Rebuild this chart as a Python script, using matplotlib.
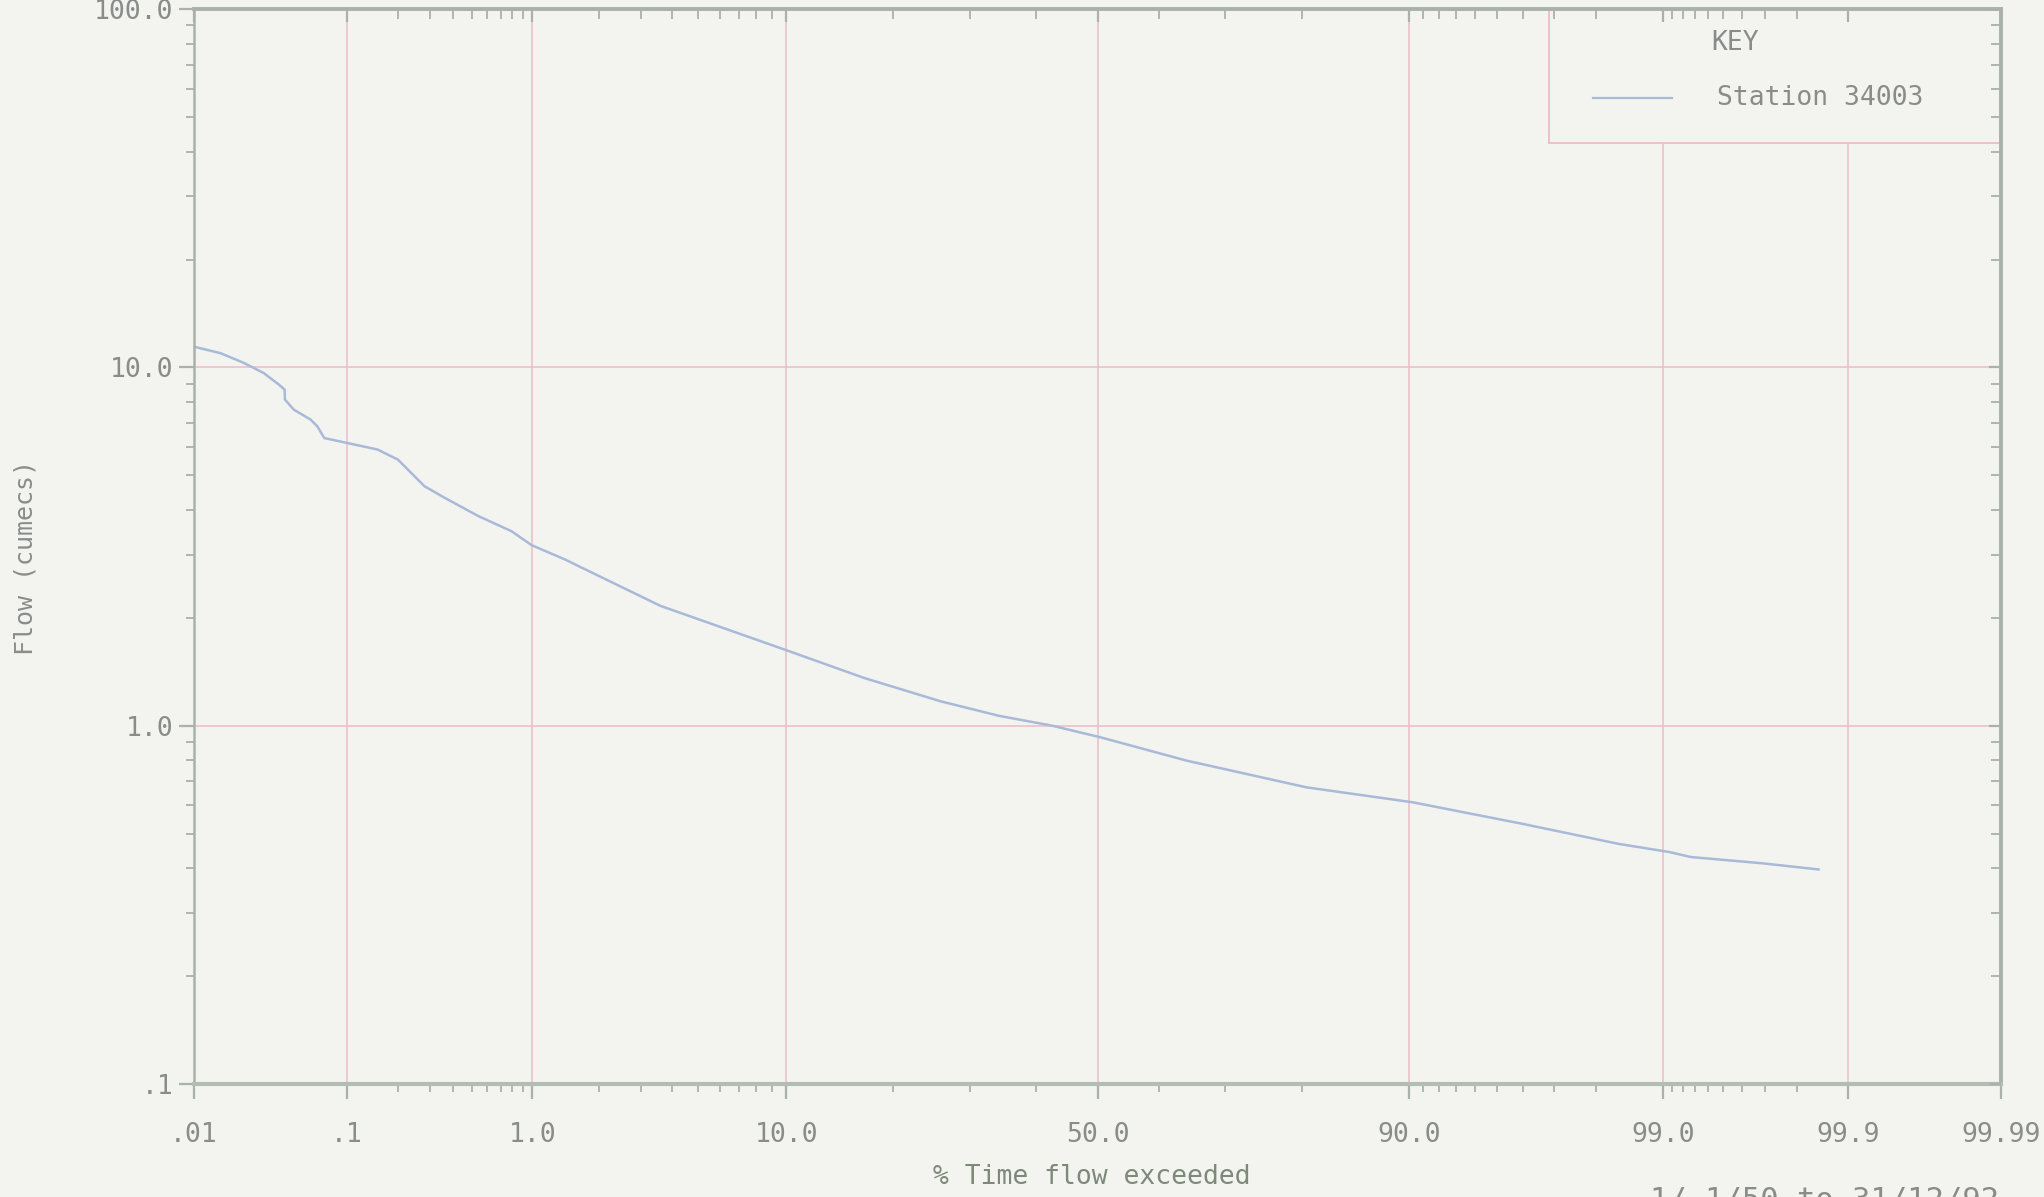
import numpy as np
import matplotlib
matplotlib.use("Agg")
import matplotlib.pyplot as plt
from matplotlib.patches import Rectangle
from matplotlib.ticker import NullFormatter
from statistics import NormalDist

# ---------------- data ----------------
pct_exceeded = [0.0102, 0.0153, 0.022, 0.030, 0.0377, 0.041, 0.0412, 0.047, 0.060,
                0.066, 0.073, 0.101, 0.152, 0.199, 0.280, 0.359, 0.539, 0.793,
                0.993, 1.42, 1.65, 3.6, 6.1, 10.1, 16.8, 25.9, 34.2, 42.6, 50.5,
                64.3, 80.5, 90.3, 96.0, 98.4, 99.07, 99.27, 99.69, 99.85]
flow_cumecs = [11.4, 10.96, 10.3, 9.64, 8.95, 8.67, 8.13, 7.62, 7.15,
               6.85, 6.35, 6.15, 5.90, 5.53, 4.66, 4.33, 3.85, 3.49,
               3.19, 2.91, 2.78, 2.16, 1.88, 1.62, 1.36, 1.17, 1.066, 1.0, 0.928,
               0.799, 0.673, 0.611, 0.532, 0.468, 0.444, 0.430, 0.413, 0.397]

x_major = [0.01, 0.1, 1.0, 10.0, 50.0, 90.0, 99.0, 99.9, 99.99]
x_major_labels = ['.01', '.1', '1.0', '10.0', '50.0', '90.0', '99.0', '99.9', '99.99']
x_minor = [0.2, 0.3, 0.4, 0.5, 0.6, 0.7, 0.8, 0.9,
           2, 3, 4, 5, 6, 7, 8, 9,
           20, 30, 40, 60, 70, 80,
           91, 92, 93, 94, 95, 96, 97, 98,
           99.1, 99.2, 99.3, 99.4, 99.5, 99.6, 99.7, 99.8]
y_major = [0.1, 1.0, 10.0, 100.0]
y_major_labels = ['.1', '1.0', '10.0', '100.0']
y_minor = [k * 10.0 ** e for e in (-1, 0, 1) for k in range(2, 10)]

series_name = 'Station 34003'
period_text = '1/ 1/50 to 31/12/92'

# ---------------- probability scale ----------------
_nd = NormalDist()
_ppf = np.vectorize(lambda q: _nd.inv_cdf(q) if 0.0 < q < 1.0 else np.nan, otypes=[float])
_cdf = np.vectorize(_nd.cdf, otypes=[float])


def prob_fwd(p):
    p = np.asarray(p, dtype=float)
    q = np.clip(p / 100.0, 1e-12, 1 - 1e-12)
    return _ppf(q)


def prob_inv(z):
    z = np.asarray(z, dtype=float)
    return 100.0 * _cdf(z)


# ---------------- style ----------------
bg = '#f3f4f0'
grid_c = '#ebbcc6'
spine_c = '#a9b1aa'
text_c = '#8a8c8a'
label_c = '#7d8a78'
line_c = '#a9b9d8'
font = 'DejaVu Sans Mono'
fs = 19

plt.rcParams['font.family'] = [font, 'DejaVu Sans']

fig = plt.figure(figsize=(20.44, 11.97), dpi=100, facecolor=bg)
rect = [0.0949, 0.0944, 0.8841, 0.898]
ax = fig.add_axes(rect)
ax.set_facecolor(bg)
ax.set_axisbelow(True)

ax.set_xscale('function', functions=(prob_fwd, prob_inv))
ax.set_yscale('log')
ax.set_xlim(0.01, 99.99)
ax.set_ylim(0.1, 100)

ax.set_xticks(x_major)
ax.set_xticklabels(x_major_labels)
ax.set_xticks(x_minor, minor=True)
ax.xaxis.set_minor_formatter(NullFormatter())
ax.set_yticks(y_major)
ax.set_yticklabels(y_major_labels)
ax.set_yticks(y_minor, minor=True)
ax.yaxis.set_minor_formatter(NullFormatter())

ax.grid(True, which='major', color=grid_c, lw=1.1)

ax.tick_params(which='both', direction='out', color=spine_c, labelcolor=text_c,
               labelsize=fs, top=False, right=False)
ax.tick_params(which='major', length=11, width=1.6)
ax.tick_params(which='minor', length=6, width=1.3)
ax.tick_params(axis='x', which='major', pad=16)
ax.tick_params(axis='y', which='major', pad=4)

for s in ax.spines.values():
    s.set_color(spine_c)
ax.spines['left'].set_linewidth(1.8)
ax.spines['bottom'].set_linewidth(3.0)
ax.spines['bottom'].set_color('#b3bdb3')
ax.spines['top'].set_linewidth(2.8)
ax.spines['right'].set_linewidth(2.8)

# curve
ax.plot(pct_exceeded, flow_cumecs, color=line_c, lw=1.8, zorder=2,
        solid_joinstyle='round')

# labels
ax.set_xlabel('% Time flow exceeded', fontsize=fs, color=label_c)
ax.xaxis.label.set_va('center')
ax.xaxis.set_label_coords(0.497, -0.0865)
ax.set_ylabel('Flow (cumecs)', fontsize=fs - 1, color=text_c)
ax.yaxis.label.set_va('center')
ax.yaxis.set_label_coords(-0.093, 0.49)

# key box
ax.add_patch(Rectangle((0.750, 0.875), 0.25, 0.125, transform=ax.transAxes,
                       facecolor=bg, edgecolor=grid_c, lw=1.3, zorder=1.5))
ax.text(0.853, 0.968, 'KEY', transform=ax.transAxes, ha='center', va='center',
        fontsize=fs, color=text_c, zorder=3)
ax.plot([0.774, 0.818], [0.917, 0.917], transform=ax.transAxes,
        color=line_c, lw=1.6, zorder=3)
ax.text(0.843, 0.917, series_name, transform=ax.transAxes, ha='left', va='center',
        fontsize=fs, color=text_c, zorder=3)

# overlay axes for inward ticks on top/right
ax2 = fig.add_axes(rect, sharex=ax, sharey=ax)
ax2.patch.set_visible(False)
for s in ax2.spines.values():
    s.set_visible(False)
ax2.tick_params(which='both', direction='in', left=False, bottom=False,
                labelleft=False, labelbottom=False, top=True, right=True,
                labeltop=False, labelright=False, color=spine_c)
ax2.tick_params(which='major', length=9, width=1.6)
ax2.tick_params(which='minor', length=7, width=1.3)

# period text (cut at bottom edge as in source)
fig.text(0.978, 0.0095, period_text, ha='right', va='top', fontsize=22,
         color=text_c)

fig.savefig('out.png', dpi=100, facecolor=bg)
